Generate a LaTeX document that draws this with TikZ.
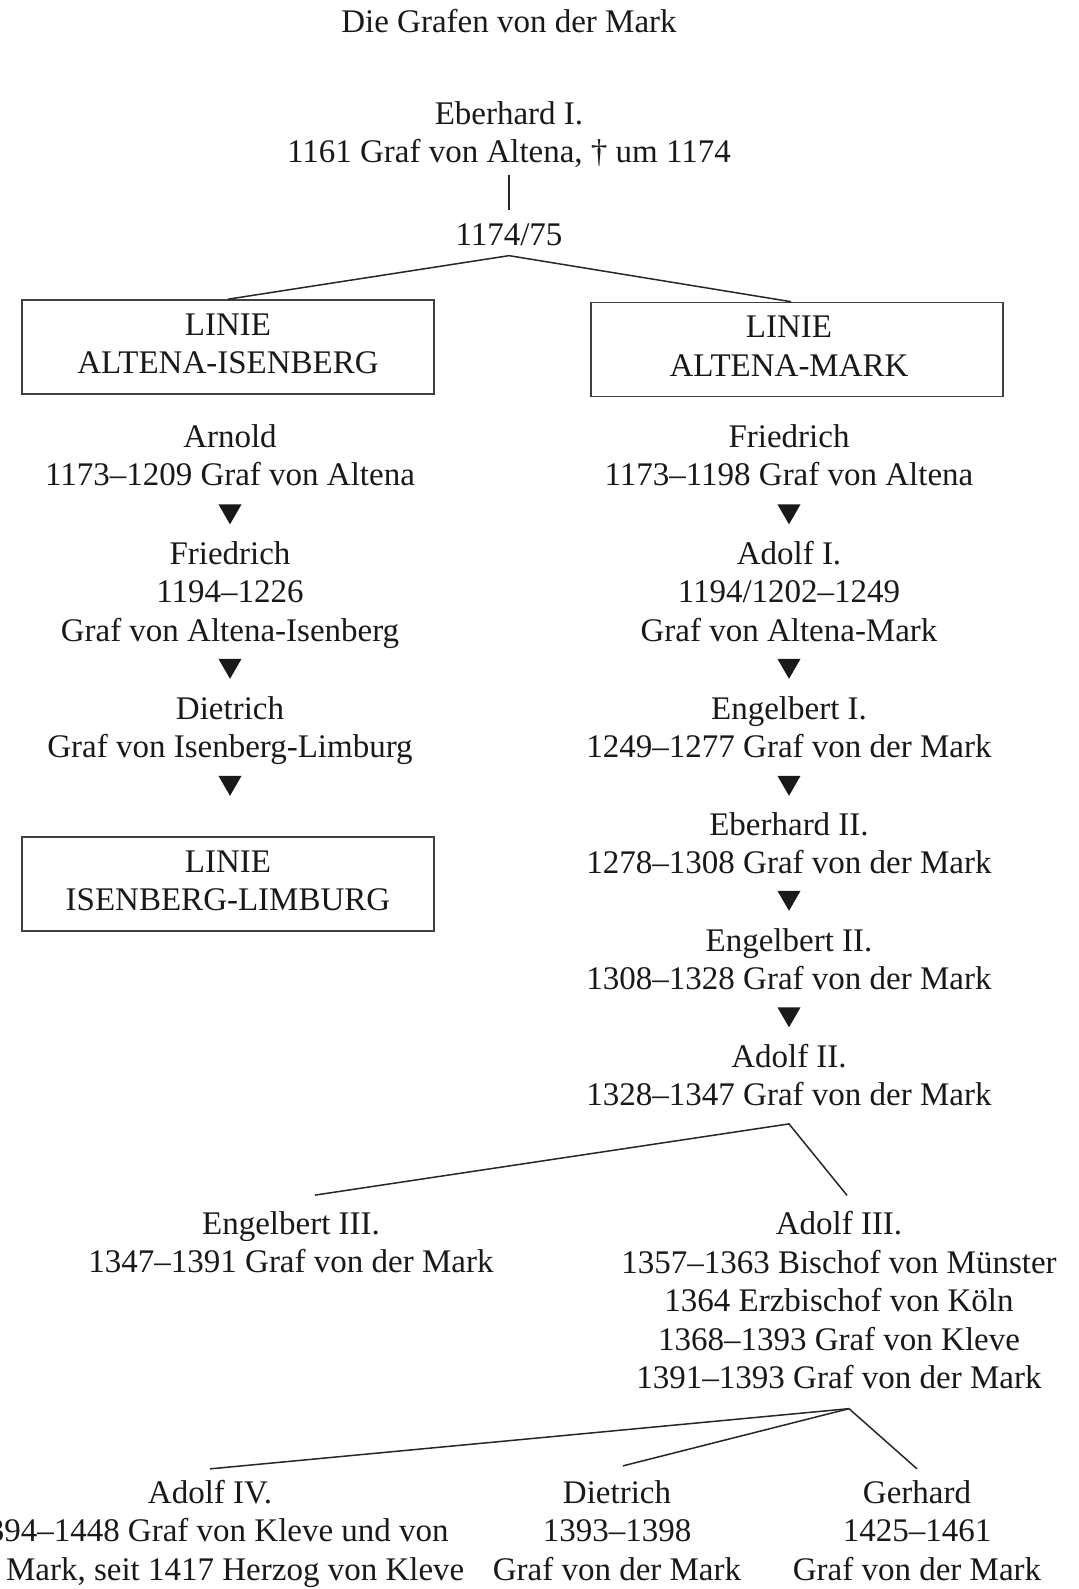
\documentclass[tikz,border=0pt]{standalone}
\usepackage{fontspec}
\setmainfont{Liberation Serif}
\usetikzlibrary{shapes.geometric}
\tikzset{
  person/.style={font=\fontsize{16.5}{19.25}\selectfont, text=black!90, inner sep=0pt, align=center},
  linebox/.style={person, draw=black!75, line width=0.8pt, minimum width=206pt, minimum height=47pt},
  tri/.style={regular polygon, regular polygon sides=3, shape border rotate=180, fill=black!90, draw=none, inner sep=0pt, minimum size=13.3pt},
  conn/.style={draw=black!85, line width=0.75pt}
}
\begin{document}
\begin{tikzpicture}[x=0.5pt,y=-0.5pt]
\useasboundingbox (0,0) rectangle (1078,1589);
% top
\node[person] (title) at (509,25) {\strut Die Grafen von der Mark};
\node[person] (ebh) at (509,136) {\strut Eberhard I.\\\strut 1161 Graf von Altena, \textdagger{} um 1174};
\node[person] (yr) at (509,238) {\strut 1174/75};
\node[linebox] (bx1) at (228,347) {\strut LINIE\\\strut ALTENA-ISENBERG};
\node[linebox] (bx2) at (797,349.5) {\strut LINIE\kern8pt\\\strut ALTENA-MARK\kern8pt};
% left column
\node[person] (arn) at (230,459) {\strut Arnold\\\strut 1173–1209 Graf von Altena};
\node[tri] (lt1) at (230,511) {};
\node[person] (fri1) at (230,595) {\strut Friedrich\\\strut 1194–1226\\\strut Graf von Altena-Isenberg};
\node[tri] (lt2) at (230,665.5) {};
\node[person] (die1) at (230,731) {\strut Dietrich\\\strut Graf von Isenberg-Limburg};
\node[tri] (lt3) at (230,782.5) {};
\node[linebox] (bx3) at (228,884) {\strut LINIE\\\strut ISENBERG-LIMBURG};
% right column
\node[person] (fri2) at (789,459) {\strut Friedrich\\\strut 1173–1198 Graf von Altena};
\node[tri] (rt1) at (789,511) {};
\node[person] (ad1) at (789,595) {\strut Adolf I.\\\strut 1194/1202–1249\\\strut Graf von Altena-Mark};
\node[tri] (rt2) at (789,665.5) {};
\node[person] (eng1) at (789,731) {\strut Engelbert I.\\\strut 1249–1277 Graf von der Mark};
\node[tri] (rt3) at (789,782.5) {};
\node[person] (eb2) at (789,847) {\strut Eberhard II.\\\strut 1278–1308 Graf von der Mark};
\node[tri] (rt4) at (789,897.5) {};
\node[person] (eng2) at (789,963) {\strut Engelbert II.\\\strut 1308–1328 Graf von der Mark};
\node[tri] (rt5) at (789,1014) {};
\node[person] (ad2) at (789,1079) {\strut Adolf II.\\\strut 1328–1347 Graf von der Mark};
% next generation
\node[person] (eng3) at (291,1246) {\strut Engelbert III.\\\strut 1347–1391 Graf von der Mark};
\node[person] (ad3) at (839,1304) {\strut Adolf III.\\\strut 1357–1363 Bischof von Münster\\\strut 1364 Erzbischof von Köln\\\strut 1368–1393 Graf von Kleve\\\strut 1391–1393 Graf von der Mark};
% last generation
\node[person] (ad4) at (210,1534) {\strut Adolf IV.\\\strut 1394–1448 Graf von Kleve und von\\\strut der Mark, seit 1417 Herzog von Kleve};
\node[person] (die2) at (617,1534) {\strut Dietrich\\\strut 1393–1398\\\strut Graf von der Mark};
\node[person] (ger) at (917,1534) {\strut Gerhard\\\strut 1425–1461\\\strut Graf von der Mark};
% connectors
\coordinate (s1) at ([yshift=1pt]yr.south);
\draw[conn, shorten >=4pt] (ebh.south) -- (yr.north);
\draw[conn] (bx1.north) -- (s1) -- ([xshift=-3pt]bx2.north);
\coordinate (s2) at ([yshift=-3pt]ad2.south);
\draw[conn] ([xshift=12pt,yshift=6pt]eng3.north) -- (s2) -- ([xshift=4pt,yshift=6pt]ad3.north);
\coordinate (s3) at ([xshift=5pt,yshift=-4pt]ad3.south);
\draw[conn] ([yshift=3.5pt]ad4.north) -- (s3);
\draw[conn] ([xshift=3pt,yshift=5pt]die2.north) -- (s3);
\draw[conn] ([yshift=3.5pt]ger.north) -- (s3);
\end{tikzpicture}
\end{document}
